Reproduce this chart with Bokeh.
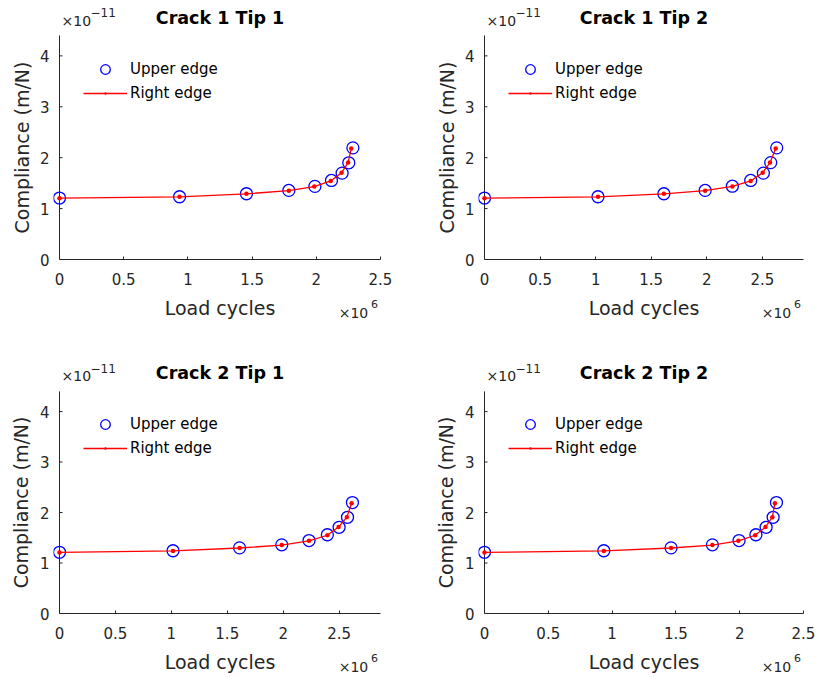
from bokeh.plotting import figure
from bokeh.layouts import column, row
from bokeh.models import (FixedTicker, CustomJSTickFormatter, Label, Legend,
                          LegendItem, Range1d, LinearAxis)
from bokeh.embed import file_html
from bokeh.resources import INLINE

# ---------------- data ----------------
titles = ["Crack 1 Tip 1", "Crack 1 Tip 2", "Crack 2 Tip 1", "Crack 2 Tip 2"]
series_names = ["Upper edge", "Right edge"]

c1t1_upper_cycles = [0, 935000, 1456000, 1786000, 1989000, 2118000, 2201000, 2253000, 2285000]
c1t1_upper_comp = [1.207e-11, 1.233e-11, 1.292e-11, 1.357e-11, 1.436e-11, 1.553e-11, 1.697e-11, 1.899e-11, 2.193e-11]
c1t1_right_cycles = [0, 935000, 1456000, 1786000, 1984000, 2112000, 2197000, 2248000, 2272000]
c1t1_right_comp = [1.205e-11, 1.231e-11, 1.290e-11, 1.352e-11, 1.432e-11, 1.543e-11, 1.706e-11, 1.903e-11, 2.182e-11]

c1t2_upper_cycles = [0, 1021000, 1614000, 1985000, 2230000, 2395000, 2509000, 2575000, 2629000]
c1t2_upper_comp = [1.207e-11, 1.233e-11, 1.292e-11, 1.357e-11, 1.440e-11, 1.553e-11, 1.697e-11, 1.903e-11, 2.193e-11]
c1t2_right_cycles = [0, 1021000, 1614000, 1985000, 2230000, 2395000, 2503000, 2569000, 2620000]
c1t2_right_comp = [1.205e-11, 1.231e-11, 1.290e-11, 1.352e-11, 1.436e-11, 1.543e-11, 1.706e-11, 1.903e-11, 2.182e-11]

c2t1_upper_cycles = [0, 1015000, 1610000, 1987000, 2231000, 2395000, 2500000, 2575000, 2619000]
c2t1_upper_comp = [1.212e-11, 1.243e-11, 1.300e-11, 1.360e-11, 1.445e-11, 1.560e-11, 1.707e-11, 1.905e-11, 2.198e-11]
c2t1_right_cycles = [0, 1015000, 1610000, 1987000, 2231000, 2395000, 2495000, 2569000, 2612000]
c2t1_right_comp = [1.210e-11, 1.240e-11, 1.297e-11, 1.355e-11, 1.440e-11, 1.550e-11, 1.712e-11, 1.908e-11, 2.186e-11]

c2t2_upper_cycles = [0, 935000, 1462000, 1786000, 1995000, 2127000, 2207000, 2262000, 2288000]
c2t2_upper_comp = [1.212e-11, 1.243e-11, 1.300e-11, 1.360e-11, 1.445e-11, 1.560e-11, 1.707e-11, 1.905e-11, 2.198e-11]
c2t2_right_cycles = [0, 935000, 1462000, 1786000, 1990000, 2121000, 2202000, 2256000, 2276000]
c2t2_right_comp = [1.210e-11, 1.240e-11, 1.297e-11, 1.355e-11, 1.440e-11, 1.550e-11, 1.712e-11, 1.908e-11, 2.186e-11]

x_ends = [2.5e6, 2.87e6, 2.87e6, 2.5e6]
y_max = 4.4e-11
x_tick_values = [0, 5e5, 1e6, 1.5e6, 2e6, 2.5e6]
y_tick_values = [0, 1e-11, 2e-11, 3e-11, 4e-11]
x_label = "Load cycles"
y_label = "Compliance (m/N)"
x_exp_base, x_exp_power = "×10", "6"
y_exp_base, y_exp_power = "×10", "−11"

FONT = "DejaVu Sans"
AX = "#262626"
EM = 1.164   # DejaVu Sans ascent + descent, in em


def text_axis(text, tick, size, standoff, vertical=False):
    """An axis that only shows one label (used for axis titles / exponents)."""
    ax = LinearAxis(ticker=FixedTicker(ticks=[tick]),
                    formatter=CustomJSTickFormatter(code='return "%s";' % text))
    ax.axis_line_color = None
    ax.major_tick_line_color = None
    ax.minor_tick_line_color = None
    ax.major_tick_in = 0
    ax.major_tick_out = 0
    ax.minor_tick_in = 0
    ax.minor_tick_out = 0
    ax.major_label_standoff = int(standoff)
    ax.major_label_text_font = FONT
    ax.major_label_text_font_size = "%gpx" % size
    ax.major_label_text_color = AX
    if vertical:
        ax.major_label_orientation = "vertical"
    return ax


def make_panel(title, ux, uy, rx, ry, x_end, left, top):
    W = 410 if left else 409
    H = 356 if top else 321
    bl = 53 if left else 68
    br = 30 if left else 16
    ax_top = 35                    # pixels between figure top and the top of the axes
    ax_h = 224 if top else 223     # height of the axes box
    fh = ax_top + ax_h             # frame runs up to the figure top
    bb = H - fh
    fw = W - bl - br
    pad = 6                        # y axis drawn this many pixels right of the frame edge
    x_start = -pad * x_end / (fw - pad)
    y_top = y_max * fh / ax_h
    px = (x_end - x_start) / fw    # data units per pixel

    p = figure(width=W, height=H, output_backend="svg", toolbar_location=None,
               min_border_left=bl, min_border_right=br, min_border_top=0,
               min_border_bottom=bb,
               x_range=Range1d(x_start, x_end), y_range=Range1d(0, y_top))
    p.outline_line_color = None
    p.grid.visible = False
    p.background_fill_color = "white"
    p.border_fill_color = "white"

    xa = p.xaxis[0]
    ya = p.yaxis[0]
    xa.ticker = FixedTicker(ticks=x_tick_values)
    ya.ticker = FixedTicker(ticks=y_tick_values)
    xa.formatter = CustomJSTickFormatter(code="return String(Math.round(tick / 1e5) / 10);")
    ya.formatter = CustomJSTickFormatter(code="return String(Math.round(tick / 1e-12) / 10);")
    xa.bounds = (0, x_end)
    ya.bounds = (0, y_max)
    for ax in (xa, ya):
        ax.minor_tick_line_color = None
        ax.minor_tick_in = 0
        ax.minor_tick_out = 0
        ax.major_tick_out = 0
        ax.axis_line_color = AX
        ax.major_tick_line_color = AX
        ax.major_label_text_font = FONT
        ax.major_label_text_font_size = "15px"
        ax.major_label_text_color = AX
    tick_standoff = 13
    xa.major_tick_in = 3
    xa.major_label_standoff = tick_standoff
    ya.axis_line_color = None
    ya.major_tick_in = 0
    ya.major_tick_line_color = None
    ya.major_label_standoff = 4

    # visible y-axis line and inward ticks at x = 0
    p.segment(x0=[0], y0=[0], x1=[0], y1=[y_max], line_color=AX, line_width=1)
    p.segment(x0=[0] * len(y_tick_values), y0=y_tick_values,
              x1=[3 * px] * len(y_tick_values), y1=y_tick_values,
              line_color=AX, line_width=1)

    # below the x axis: label-only axes stacked in order of their lower edge
    # (text, x position, font px, wanted centre below the axis line)
    below_items = [
        (x_exp_power, x_end - 6 * px, 11, 49),
        (x_label, x_end / 2, 19, 52),
        (x_exp_base, x_end - 27 * px, 14, 55),
    ]
    cum = tick_standoff + EM * 15
    for text, xpos, size, centre in below_items:
        top_edge = centre - EM * size / 2
        s = int(round(top_edge - cum))
        p.add_layout(text_axis(text, xpos, size, s), "below")
        cum = cum + s + EM * size
    p.add_layout(text_axis(y_label, y_max / 2, 19, 4, vertical=True), "left")

    r_up = p.scatter(ux, uy, marker="circle", size=12, fill_color=None,
                     line_color="#0000FF", line_width=1.3)
    r_line = p.line(rx, ry, line_color="#FF0000", line_width=1.3)
    r_dot = p.scatter(rx, ry, marker="dot", size=18, line_color="#FF0000",
                      fill_color="#FF0000")

    legend = Legend(items=[LegendItem(label=series_names[0], renderers=[r_up]),
                           LegendItem(label=series_names[1], renderers=[r_line, r_dot])],
                    location=(30, ax_h - 22 - 48), margin=0, padding=0,
                    border_line_color=None, background_fill_alpha=0,
                    glyph_width=44, glyph_height=24, label_height=24,
                    spacing=0, label_standoff=3,
                    label_text_font=FONT, label_text_font_size="15px",
                    label_text_color="#000000")
    p.add_layout(legend)

    # title and y exponent, inside the (extended) frame above the axes
    p.add_layout(Label(x=x_end / 2, y=y_max, text=title, y_offset=18,
                       text_baseline="middle", text_align="center",
                       text_font=FONT, text_font_size="17.5px",
                       text_font_style="bold", text_color="#000000"))
    p.add_layout(Label(x=0, y=y_max, text=y_exp_base, x_offset=2, y_offset=15,
                       text_baseline="middle", text_align="left",
                       text_font=FONT, text_font_size="14px", text_color=AX))
    p.add_layout(Label(x=0, y=y_max, text=y_exp_power, x_offset=31, y_offset=23,
                       text_baseline="middle", text_align="left",
                       text_font=FONT, text_font_size="12px", text_color=AX))
    return p


p1 = make_panel(titles[0], c1t1_upper_cycles, c1t1_upper_comp, c1t1_right_cycles, c1t1_right_comp, x_ends[0], True, True)
p2 = make_panel(titles[1], c1t2_upper_cycles, c1t2_upper_comp, c1t2_right_cycles, c1t2_right_comp, x_ends[1], False, True)
p3 = make_panel(titles[2], c2t1_upper_cycles, c2t1_upper_comp, c2t1_right_cycles, c2t1_right_comp, x_ends[2], True, False)
p4 = make_panel(titles[3], c2t2_upper_cycles, c2t2_upper_comp, c2t2_right_cycles, c2t2_right_comp, x_ends[3], False, False)

layout = column(row(p1, p2), row(p3, p4))
open("out.html", "w").write(file_html(layout, INLINE))
